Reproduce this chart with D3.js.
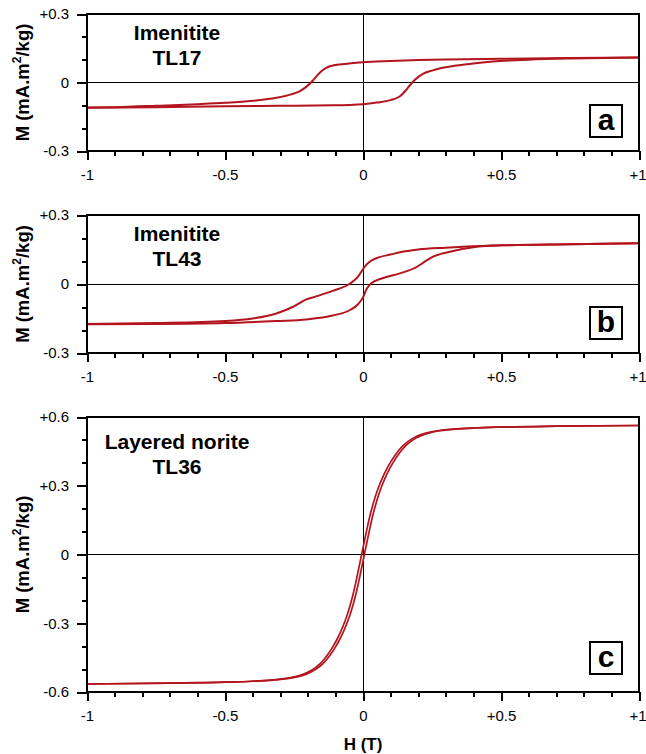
<!DOCTYPE html>
<html>
<head>
<meta charset="utf-8">
<script src="https://cdn.jsdelivr.net/npm/d3@7"></script>
<style>
	body { margin: 0; background: #fff; }
	svg { display: block; font-family: 'Liberation Sans', Arial, Helvetica, sans-serif; }
</style>
</head>
<body>
<div id="chart"></div>
<script>
// hysteresis loops, [H (T), M (mA.m2/kg)]
// upper = descending-field branch, lower = ascending-field branch
const aUpper = [
	[-1, -0.110], [-0.9, -0.108], [-0.75, -0.102], [-0.6, -0.095], [-0.5, -0.089],
	[-0.4, -0.080], [-0.314, -0.067], [-0.26, -0.052], [-0.228, -0.038], [-0.205, -0.018],
	[-0.19, -0.002], [-0.178, 0.014], [-0.165, 0.032], [-0.15, 0.050], [-0.135, 0.063],
	[-0.12, 0.071], [-0.1, 0.077], [-0.05, 0.083], [0, 0.089], [0.1, 0.094],
	[0.2, 0.098], [0.3, 0.101], [0.5, 0.104], [0.75, 0.107], [1, 0.109]
];
const aLower = [
	[-1, -0.111], [-0.75, -0.108], [-0.5, -0.104], [-0.3, -0.102], [-0.11, -0.100],
	[0, -0.095], [0.05, -0.088], [0.1, -0.077], [0.134, -0.060], [0.155, -0.035],
	[0.17, -0.012], [0.188, 0.012], [0.217, 0.038], [0.25, 0.052], [0.28, 0.062],
	[0.377, 0.080], [0.47, 0.092], [0.6, 0.100], [0.75, 0.105], [1, 0.109]
];
const bUpper = [
	[-1, -0.174], [-0.75, -0.170], [-0.5, -0.161], [-0.4, -0.150], [-0.314, -0.128],
	[-0.253, -0.099], [-0.205, -0.067], [-0.17, -0.054], [-0.11, -0.030], [-0.047, 0.002],
	[-0.018, 0.032], [-0.006, 0.053], [0.006, 0.075], [0.024, 0.097], [0.06, 0.117],
	[0.1, 0.128], [0.134, 0.138], [0.2, 0.150], [0.3, 0.158], [0.377, 0.163],
	[0.5, 0.168], [0.75, 0.173], [1, 0.177]
];
const bLower = [
	[-1, -0.175], [-0.75, -0.174], [-0.5, -0.170], [-0.314, -0.161], [-0.205, -0.154],
	[-0.11, -0.137], [-0.047, -0.113], [-0.018, -0.088], [0, -0.058], [0.013, -0.022],
	[0.03, 0.003], [0.07, 0.025], [0.134, 0.046], [0.196, 0.075], [0.225, 0.098],
	[0.254, 0.119], [0.315, 0.140], [0.4, 0.160], [0.5, 0.168], [0.75, 0.173], [1, 0.177]
];
const cUpper = [
	[-1, -0.565], [-0.705, -0.561], [-0.505, -0.557], [-0.405, -0.553], [-0.335, -0.548],
	[-0.285, -0.542], [-0.245, -0.533], [-0.215, -0.522], [-0.195, -0.511], [-0.175, -0.496],
	[-0.155, -0.476], [-0.14, -0.456], [-0.125, -0.432], [-0.11, -0.404], [-0.095, -0.372],
	[-0.08, -0.334], [-0.065, -0.290], [-0.055, -0.255], [-0.045, -0.215], [-0.035, -0.169],
	[-0.025, -0.116], [-0.015, -0.058], [-0.005, 0], [0.005, 0.058], [0.015, 0.115],
	[0.025, 0.168], [0.035, 0.214], [0.045, 0.254], [0.055, 0.289], [0.07, 0.333],
	[0.085, 0.371], [0.1, 0.403], [0.115, 0.431], [0.13, 0.455], [0.145, 0.475],
	[0.165, 0.495], [0.185, 0.510], [0.205, 0.521], [0.235, 0.532], [0.275, 0.541],
	[0.325, 0.547], [0.395, 0.552], [0.495, 0.556], [0.695, 0.560], [1, 0.563]
];
const cLower = [
	[-1, -0.565], [-0.695, -0.561], [-0.495, -0.557], [-0.395, -0.553], [-0.325, -0.548],
	[-0.275, -0.542], [-0.235, -0.533], [-0.205, -0.522], [-0.185, -0.511], [-0.165, -0.496],
	[-0.145, -0.476], [-0.13, -0.456], [-0.115, -0.432], [-0.1, -0.404], [-0.085, -0.372],
	[-0.07, -0.334], [-0.055, -0.290], [-0.045, -0.255], [-0.035, -0.215], [-0.025, -0.169],
	[-0.015, -0.116], [-0.005, -0.058], [0.005, 0], [0.015, 0.058], [0.025, 0.115],
	[0.035, 0.168], [0.045, 0.214], [0.055, 0.254], [0.065, 0.289], [0.08, 0.333],
	[0.095, 0.371], [0.11, 0.403], [0.125, 0.431], [0.14, 0.455], [0.155, 0.475],
	[0.175, 0.495], [0.195, 0.510], [0.215, 0.521], [0.245, 0.532], [0.285, 0.541],
	[0.335, 0.547], [0.405, 0.552], [0.505, 0.556], [0.705, 0.560], [1, 0.563]
];

const panelLetters = [ 'a', 'b', 'c' ];
const panelTitles = [ [ 'Imenitite', 'TL17' ], [ 'Imenitite', 'TL43' ], [ 'Layered norite', 'TL36' ] ];
const yDomains = [ [ -0.3, 0.3 ], [ -0.3, 0.3 ], [ -0.6, 0.6 ] ];
const yMajorTicks = [ [ -0.3, 0, 0.3 ], [ -0.3, 0, 0.3 ], [ -0.6, -0.3, 0, 0.3, 0.6 ] ];
const xMajorTicks = [ -1, -0.5, 0, 0.5, 1 ];
const loops = [ [ aUpper, aLower ], [ bUpper, bLower ], [ cUpper, cLower ] ];

const width = 646;
const height = 754;
const left = 87;
const right = 639;
const layout = [
	{ top: 14, bottom: 151, titleY: 40, boxY: 105 },
	{ top: 215, bottom: 353, titleY: 241, boxY: 307 },
	{ top: 417, bottom: 692, titleY: 449, boxY: 642 }
];
const curveColor = '#b3141d';

function fmt(d) {
	if (Math.abs(d) < 1e-9) return '0';
	return (d > 0 ? '+' : '-') + String(Math.round(Math.abs(d) * 10) / 10);
}

const svg = d3.select('#chart').append('svg').attr('width', width).attr('height', height);

const x = d3.scaleLinear().domain([ -1, 1 ]).range([ left, right ]);
const xMinor = d3.range(-10, 11).map((i) => i / 10);

layout.forEach(function(p, i) {
	const y = d3.scaleLinear().domain(yDomains[i]).range([ p.bottom, p.top ]);
	const yMinor = d3.range(Math.round(yDomains[i][0] * 10), Math.round(yDomains[i][1] * 10) + 1).map((k) => k / 10);
	const g = svg.append('g');
	const y0 = Math.floor(y(0)) + 0.5;

	// zero lines
	g.append('line').attr('x1', left).attr('x2', right).attr('y1', y0).attr('y2', y0)
		.attr('stroke', '#000').attr('stroke-width', 1);
	g.append('line').attr('x1', x(0) + 0.5).attr('x2', x(0) + 0.5).attr('y1', p.top).attr('y2', p.bottom)
		.attr('stroke', '#000').attr('stroke-width', 1);

	// curves
	const line = d3.line().x((d) => x(d[0])).y((d) => y(d[1])).curve(d3.curveMonotoneX);
	loops[i].forEach(function(branch) {
		g.append('path').datum(branch).attr('d', line)
			.attr('fill', 'none').attr('stroke', curveColor).attr('stroke-width', i === 2 ? 1.7 : 2)
			.attr('stroke-linejoin', 'round');
	});

	// minor ticks
	g.append('g').attr('transform', `translate(0,${p.bottom})`)
		.call(d3.axisBottom(x).tickValues(xMinor).tickSize(5).tickFormat(''))
		.call((a) => a.select('.domain').remove());
	g.append('g').attr('transform', `translate(${left},0)`)
		.call(d3.axisLeft(y).tickValues(yMinor).tickSize(5).tickFormat(''))
		.call((a) => a.select('.domain').remove());

	// major ticks + labels
	g.append('g').attr('class', 'xaxis').attr('transform', `translate(0,${p.bottom})`)
		.call(d3.axisBottom(x).tickValues(xMajorTicks).tickSize(9).tickPadding(9).tickFormat(fmt))
		.call((a) => a.select('.domain').remove())
		.call((a) => a.selectAll('.tick:last-of-type text').attr('text-anchor', 'end').attr('x', 646 - right));
	g.append('g').attr('class', 'yaxis').attr('transform', `translate(${left},0)`)
		.call(d3.axisLeft(y).tickValues(yMajorTicks[i]).tickSize(10).tickPadding(8).tickFormat(fmt))
		.call((a) => a.select('.domain').remove());

	g.selectAll('.tick line').attr('stroke', '#000').attr('stroke-width', 2).attr('shape-rendering', 'crispEdges');
	g.selectAll('.tick text').attr('font-size', 15).attr('fill', '#000')
		.attr('font-family', "'Liberation Sans', Arial, sans-serif");

	// frame
	g.append('rect').attr('x', left).attr('y', p.top).attr('width', right - left).attr('height', p.bottom - p.top)
		.attr('fill', 'none').attr('stroke', '#000').attr('stroke-width', 2).attr('shape-rendering', 'crispEdges');

	// sample title
	const t = g.append('text').attr('text-anchor', 'middle').attr('font-weight', 'bold').attr('font-size', 21);
	t.append('tspan').attr('x', 177).attr('y', p.titleY).text(panelTitles[i][0]);
	t.append('tspan').attr('x', 177).attr('y', p.titleY + 25).text(panelTitles[i][1]);

	// panel letter box
	g.append('rect').attr('x', 590).attr('y', p.boxY).attr('width', 32).attr('height', 32)
		.attr('fill', '#fff').attr('stroke', '#000').attr('stroke-width', 2).attr('shape-rendering', 'crispEdges');
	g.append('text').attr('x', 606).attr('y', p.boxY + 25).attr('text-anchor', 'middle')
		.attr('font-weight', 'bold').attr('font-size', 30).text(panelLetters[i]);

	// y label
	const yl = g.append('text').attr('transform', `translate(29,${(p.top + p.bottom) / 2}) rotate(-90)`)
		.attr('text-anchor', 'middle').attr('font-weight', 'bold').attr('font-size', 18.5);
	yl.append('tspan').text('M (mA.m');
	yl.append('tspan').attr('font-size', 12).attr('dy', -8).text('2');
	yl.append('tspan').attr('dy', 8).text('/kg)');
});

svg.append('text').attr('x', x(0)).attr('y', 750).attr('text-anchor', 'middle')
	.attr('font-weight', 'bold').attr('font-size', 17).text('H (T)');
</script>
</body>
</html>
